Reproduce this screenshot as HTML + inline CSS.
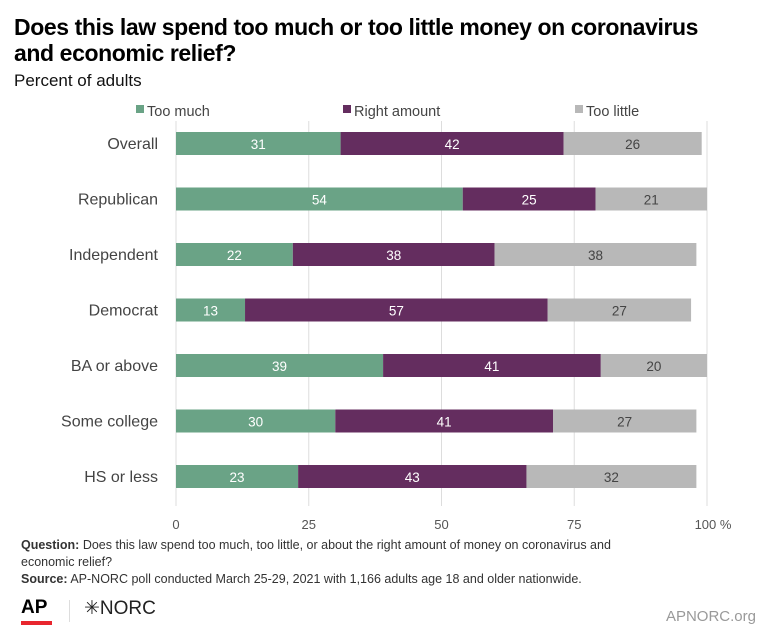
<!DOCTYPE html>
<html><head><meta charset="utf-8"><style>
body{margin:0;width:768px;height:635px;background:#fff;font-family:"Liberation Sans",sans-serif;overflow:hidden;position:relative;color:#333}
.t{position:absolute;left:14px;top:14px;font-weight:bold;font-size:23px;line-height:26px;color:#000;letter-spacing:-0.4px}
.s{position:absolute;left:14px;top:71px;font-size:17px;color:#111}
.n{position:absolute;left:21px;font-size:12.5px;line-height:17px;color:#333;width:630px}
</style></head><body>
<div class="t">Does this law spend too much or too little money on coronavirus<br>and economic relief?</div>
<div class="s">Percent of adults</div>
<svg id="c" width="768" height="635" style="position:absolute;left:0;top:0"></svg>
<div class="n" style="top:537px"><b>Question:</b> Does this law spend too much, too little, or about the right amount of money on coronavirus and economic relief?<br><b>Source:</b> AP-NORC poll conducted March 25-29, 2021 with 1,166 adults age 18 and older nationwide.</div>
<div style="position:absolute;left:21px;top:597px;font-weight:bold;font-size:19px;color:#000">AP</div>
<div style="position:absolute;left:21px;top:621px;width:31px;height:4px;background:#e8262e"></div>
<div style="position:absolute;left:69px;top:600px;width:1px;height:22px;background:#ddd"></div>
<div style="position:absolute;left:84px;top:597px;font-size:19px;color:#222">✳NORC</div>
<div style="position:absolute;right:12px;top:608px;font-size:15px;color:#999">APNORC.org</div>
<script>
const categories=["Overall","Republican","Independent","Democrat","BA or above","Some college","HS or less"];
const tooMuch=[31,54,22,13,39,30,23];
const rightAmount=[42,25,38,57,41,41,43];
const tooLittle=[26,21,38,27,20,27,32];
const ticks=[0,25,50,75,100];
const seriesNames=["Too much","Right amount","Too little"];
const colors=["#6aa386","#642d5f","#b8b8b8"];
const svg=document.getElementById('c');
const NS='http://www.w3.org/2000/svg';
const x=v=>176+v*5.31;
const y=i=>132+i*55.5;
const bh=23;
function mk(t,a,txt){const e=document.createElementNS(NS,t);for(const k in a)e.setAttribute(k,a[k]);if(txt!=null)e.textContent=txt;svg.appendChild(e);return e;}
ticks.forEach(t=>{
 const g=mk('line',{x1:x(t),x2:x(t),y1:121,y2:506,stroke:'#ddd','stroke-width':1});
 
 
 const l=mk('text',{x:x(t),y:529,'text-anchor':'middle','font-size':13,fill:'#555'},t===100?'100 %':String(t));
 if(t===100)l.setAttribute('x',x(t)+6);
 
 
});
const lx=[136,343,575];
seriesNames.forEach((s,k)=>{
 const r=mk('rect',{x:lx[k],y:105,width:8,height:8,fill:colors[k]});
 
 
 const t=mk('text',{x:lx[k]+11,y:116,'font-size':14.5,fill:'#444'},s);
 
 
});
const series=[tooMuch,rightAmount,tooLittle];
categories.forEach((c,i)=>{
 const lab=mk('text',{x:158,y:y(i)+17,'text-anchor':'end','font-size':16,fill:'#444'},c);
 
 
 let acc=0;
 series.forEach((arr,k)=>{
  const v=arr[i];
  const b=mk('rect',{x:x(acc),y:y(i),width:x(acc+v)-x(acc),height:bh,fill:colors[k]});
  
  
  const tv=mk('text',{x:(x(acc)+x(acc+v))/2,y:y(i)+17,'text-anchor':'middle','font-size':13.5,fill:k===2?'#444':'#fff'},String(v));
  
  
  acc+=v;
 });
});
</script>
</body></html>
